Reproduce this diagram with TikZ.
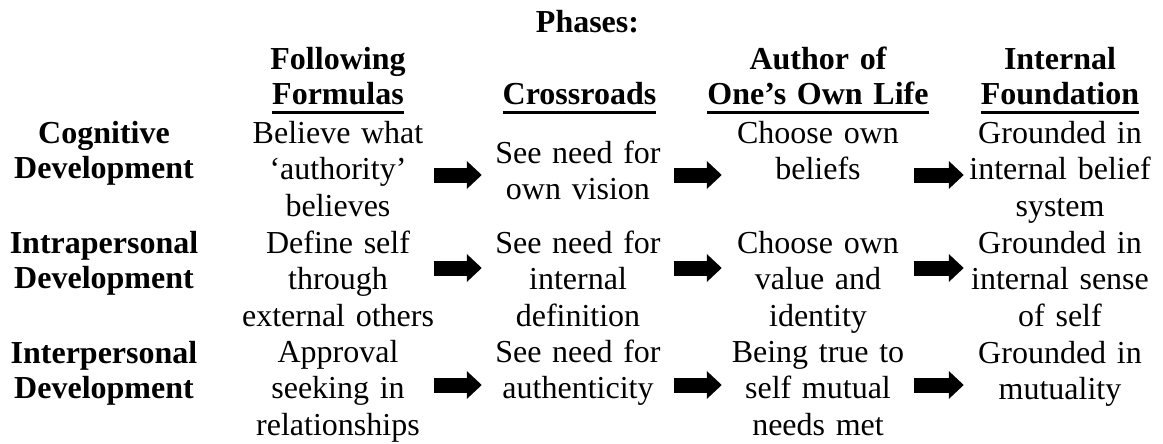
\documentclass[tikz,border=0pt]{standalone}
\usepackage{fontspec}
\setmainfont{Liberation Serif}
\usepackage{tikz}
\usetikzlibrary{arrows.meta}

\newcommand{\phaseul}[1]{\leavevmode\setbox0=\hbox{#1}\rlap{\rule[-9pt]{\wd0}{2.5pt}}\box0}

\begin{document}
\begin{tikzpicture}[x=1pt,y=-1pt,
  cell/.style={anchor=base,inner sep=0pt,text width=192pt,align=center,
    font=\fontsize{32}{36.5}\selectfont},
  head/.style={anchor=base,inner sep=0pt,text width=230pt,align=center,
    font=\fontsize{32}{35}\selectfont\bfseries},
  blockarrow/.style={line width=15pt,-{Triangle[length=15pt,width=27pt]}}]

  \useasboundingbox (0,0) rectangle (1163,444);

  % phase headings
  \node[head] (phases) at (587.5,33) {Phases:};
  \node[head] (ff) at (338,70) {Following\\\phaseul{Formulas}};
  \node[head] (cr) at (579.5,105) {\phaseul{Crossroads}};
  \node[head] (au) at (818,70) {Author of\\\phaseul{One’s Own Life}};
  \node[head] (fd) at (1060,70) {Internal\\\phaseul{Foundation}};

  % row labels
  \node[head] (cog) at (104,143) {Cognitive\\Development};
  \node[head] (intra) at (104,253) {Intrapersonal\\Development};
  \node[head] (inter) at (104,363) {Interpersonal\\Development};

  % cognitive
  \node[cell] (cog1) at (338,143) {Believe what\\‘authority’\\believes};
  \node[cell] (cog2) at (578,163) {See need for\\own vision};
  \node[cell] (cog3) at (818,143) {Choose own\\beliefs};
  \node[cell] (cog4) at (1060,143) {Grounded in\\internal belief\\system};

  % intrapersonal
  \node[cell] (intra1) at (338,253) {Define self\\through\\external others};
  \node[cell] (intra2) at (578,253) {See need for\\internal\\definition};
  \node[cell] (intra3) at (818,253) {Choose own\\value and\\identity};
  \node[cell] (intra4) at (1060,253) {Grounded in\\internal sense\\of self};

  % interpersonal
  \node[cell] (inter1) at (338,362) {Approval\\seeking in\\relationships};
  \node[cell] (inter2) at (578,362) {See need for\\authenticity};
  \node[cell] (inter3) at (818,362) {Being true to\\self mutual\\needs met};
  \node[cell] (inter4) at (1060,363) {Grounded in\\mutuality};

  % arrow heights
  \coordinate (cogarr) at (0,175);
  \coordinate (intraarr) at (0,268);
  \coordinate (interarr) at (0,385);

  \foreach \r in {cog,intra,inter}
    \foreach \a/\b in {1/2,2/3,3/4}
      \draw[blockarrow] (\r\a.east |- \r arr) -- (\r\b.west |- \r arr);

\end{tikzpicture}
\end{document}
